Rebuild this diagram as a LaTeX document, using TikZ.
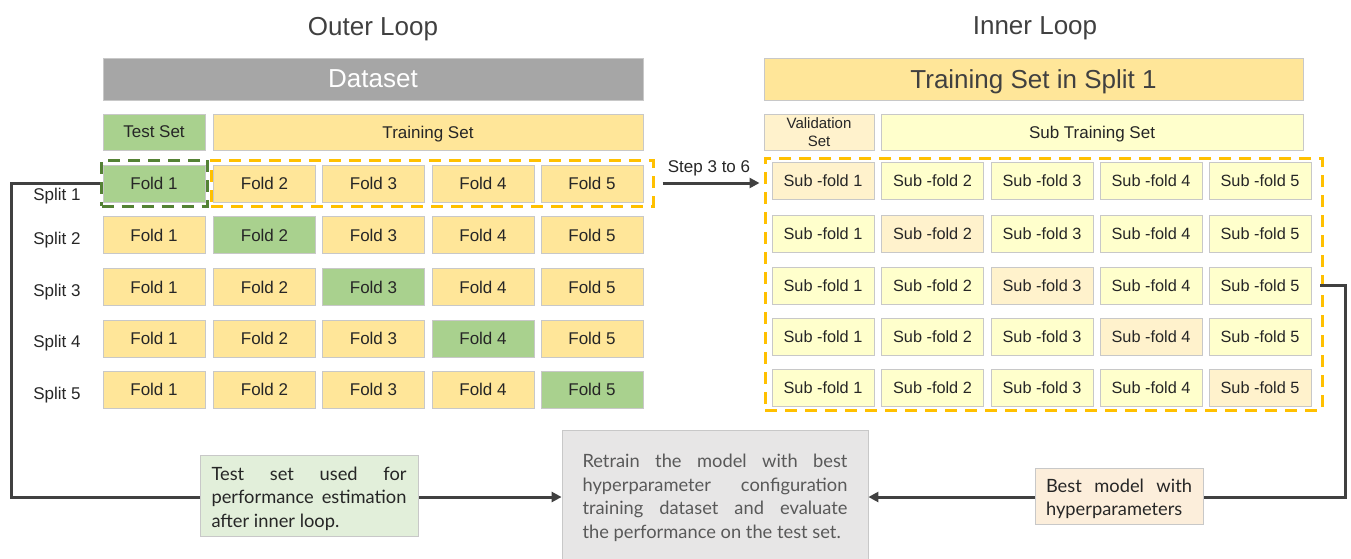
\documentclass[tikz,border=0pt]{standalone}
\usepackage{fontspec}
\setmainfont{Liberation Sans}
\newfontfamily\notefont{Lato}
\usetikzlibrary{arrows.meta}
\definecolor{cgreen}{HTML}{A9D18E}
\definecolor{cgold}{HTML}{FFE699}
\definecolor{cgray}{HTML}{A6A6A6}
\definecolor{cborder}{HTML}{C8C8C8}
\definecolor{cdgreen}{HTML}{548235}
\definecolor{corange}{HTML}{FFC000}
\definecolor{cyel}{HTML}{FFFFCC}
\definecolor{cpeach}{HTML}{FFF2CC}
\definecolor{cnote}{HTML}{E2EFDA}
\definecolor{cretrain}{HTML}{E7E6E6}
\definecolor{cbest}{HTML}{FCEEDB}
\definecolor{cline}{HTML}{404040}
\definecolor{ctext}{HTML}{262626}
\begin{document}
\begin{tikzpicture}[x=1pt,y=-1pt,
  cell/.style={draw=cborder, line width=0.8pt, minimum width=102pt, minimum height=37pt, inner sep=0pt, text depth=0pt, text=ctext, font=\fontsize{17}{19}\selectfont},
  fold/.style={cell, fill=cgold},
  tfold/.style={cell, fill=cgreen},
  sfold/.style={cell, fill=cyel, font=\fontsize{16.3}{18}\selectfont},
  vfold/.style={cell, fill=cpeach, font=\fontsize{16.3}{18}\selectfont},
  title/.style={font=\fontsize{26}{30}\selectfont, text=cline, text depth=0pt},
  bar/.style={draw=cborder, line width=0.8pt, minimum height=42pt, inner sep=0pt, text depth=0pt, font=\fontsize{26}{30}\selectfont},
  head/.style={cell, minimum height=36pt},
  splitlbl/.style={font=\fontsize{17}{20}\selectfont, text=ctext, text depth=0pt},
  dbox/.style={line width=3pt, dash pattern=on 12pt off 8pt, inner sep=0pt},
  conn/.style={draw=cline, line width=3pt},
  arr/.style={conn, -{Triangle[length=10pt,width=10pt]}},
  note/.style={draw=cborder, line width=0.8pt, inner sep=0pt, font=\notefont\fontsize{18.3}{23.5}\selectfont, align=left}
]
\useasboundingbox (0,0) rectangle (1351,558);

% titles
\node[title] (outer) at (373,26) {Outer Loop};
\node[title] (inner) at (1035,26) {Inner Loop};

% outer headers
\node[bar, fill=cgray, text=white, minimum width=540pt] (dataset) at (373,79) {Dataset};
\node[head, fill=cgreen, minimum width=102pt] (testset) at (154,132) {Test Set};
\node[head, fill=cgold, minimum width=430pt] (trainset) at (428,132) {Training Set};

% folds
\foreach \r/\y in {1/183.5,2/235,3/287,4/338.5,5/389.5}{
  \foreach \c/\x in {1/154,2/264.5,3/373.5,4/483,5/592}{
    \ifnum\r=\c\def\st{tfold}\else\def\st{fold}\fi
    \node[\st] (f\r\c) at (\x,\y) {Fold \c};
  }
}
\foreach \r/\y in {1/194,2/238,3/290,4/341,5/393}{
  \node[splitlbl] (s\r) at (57,\y) {Split \r};
}

% dashed boxes outer
\node[dbox, draw=cdgreen, minimum width=106pt, minimum height=46pt] (gd) at (154.5,183) {};
\node[dbox, draw=corange, minimum width=442pt, minimum height=46pt] (od) at (432,183) {};

% inner headers
\node[bar, fill=cgold, text=cline, minimum width=539pt] (tsplit) at (1033.5,79) {Training Set in Split 1};
\node[head, fill=cpeach, minimum width=110pt, align=center, text depth={}, font=\fontsize{15}{17.5}\selectfont] (valset) at (819,132) {Validation\\Set};
\node[head, fill=cyel, minimum width=422pt] (subtrain) at (1092,132) {Sub Training Set};

% sub folds
\foreach \r/\y in {1/181,2/233.5,3/285.5,4/336.5,5/387.5}{
  \foreach \c/\x in {1/823,2/932.5,3/1042,4/1151,5/1260}{
    \ifnum\r=\c\def\st{vfold}\else\def\st{sfold}\fi
    \node[\st] (sf\r\c) at (\x,\y) {Sub -fold \c};
  }
}
\node[dbox, draw=corange, minimum width=557pt, minimum height=252pt] (id) at (1043.5,284) {};

% step arrow
\draw[arr] ([xshift=8pt]od.east) -- ([xshift=-4pt]id.west |- od.east);
\node[splitlbl] (step) at (709,167) {Step 3 to 6};

% bottom boxes
\node[note, fill=cretrain, text=black!65, minimum width=306pt, minimum height=136pt] (retrain) at (715,498) {%
\makebox[265pt][s]{Retrain the model with best}\\
\makebox[265pt][s]{hyperparameter configuration}\\
\makebox[265pt][s]{training dataset and evaluate}\\
the performance on the test set.};

% connectors
\coordinate (lc1) at (11,183);
\coordinate (lc2) at (11,497);
\draw[arr] (gd.west) -- (lc1) -- (lc2) -- (retrain.west |- lc2);
\coordinate (rc1) at (1345,285.5);
\coordinate (rc2) at (1345,497);
\draw[arr] ([xshift=9pt]sf35.east) -- (rc1) -- (rc2) -- (retrain.east |- rc2);

\node[note, fill=cnote, text=ctext, minimum width=218pt, minimum height=81pt] (testnote) at (309,495.5) {%
\rule{0pt}{19.5pt}\makebox[195pt][s]{Test set used for}\\
\makebox[195pt][s]{performance estimation}\\
after inner loop.};

\node[note, fill=cbest, text=ctext, minimum width=168pt, minimum height=56pt] (best) at (1119,496) {%
\rule{0pt}{19.5pt}\makebox[146pt][s]{Best model with}\\
hyperparameters};
\end{tikzpicture}
\end{document}
